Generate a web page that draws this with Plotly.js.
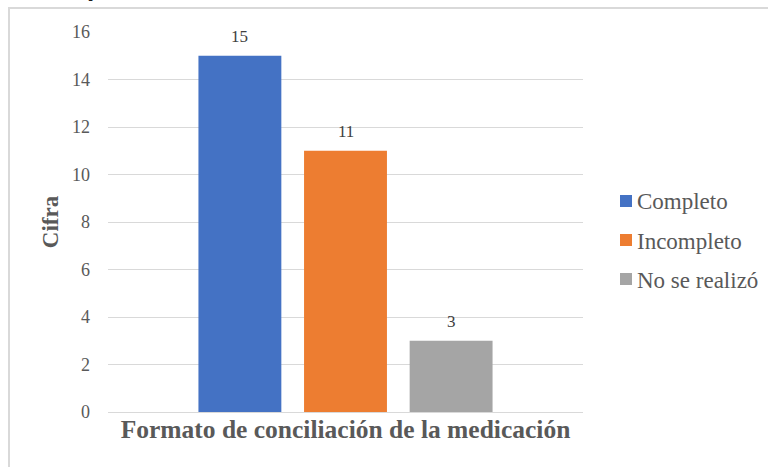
<!DOCTYPE html>
<html>
<head>
<meta charset="utf-8">
<script src="https://cdn.plot.ly/plotly-3.0.1.min.js"></script>
<style>
  html, body { margin: 0; padding: 0; background: #ffffff; }
  #wrap { position: relative; width: 768px; height: 467px; overflow: hidden; }
  #frame { position: absolute; left: 8px; top: 7px; right: -4px; bottom: -4px;
           border-left: 2px solid #d9d9d9; border-top: 2px solid #d9d9d9; }
  #chart { position: absolute; left: 0; top: 0; width: 768px; height: 467px; }
</style>
</head>
<body>
<div id="wrap">
  <div id="frame"></div>
  <div id="chart"></div>
</div>
<script>
// Medication reconciliation format: one group, three outcomes
const category = ["Formato"];
const seriesNames = ["Completo", "Incompleto", "No se realizó"];
const seriesValues = [15, 11, 3];
const seriesColors = ["#4472c4", "#ed7d31", "#a5a5a5"];
const yTicks = [0, 2, 4, 6, 8, 10, 12, 14, 16];

const serif = "Liberation Serif, Times New Roman, serif";

// plot area: 475 x 380 px; helpers convert pixel offsets to paper units
const plotW = 475, plotH = 380, marginL = 108, marginT = 32;
const px = (x) => (x - marginL) / plotW;
const py = (y) => (marginT + plotH - y) / plotH;

const traces = seriesNames.map((name, i) => ({
  type: "bar",
  name: name,
  x: category,
  y: [seriesValues[i]],
  marker: { color: seriesColors[i] },
  hoverinfo: "skip"
}));

// value labels above each bar
const valueLabels = seriesNames.map((name, i) => ({
  xref: "x", yref: "y",
  x: category[0], y: seriesValues[i],
  xshift: (i - 1) * 105.7,
  yshift: 8,
  yanchor: "bottom",
  text: String(seriesValues[i]),
  showarrow: false,
  font: { family: serif, size: 17, color: "#404040" }
}));

// legend on the right: colour square + series name, one row per series
const legendRowY = (i) => 201 + 39 * i;
const legendSwatches = seriesNames.map((name, i) => ({
  type: "rect",
  xref: "paper", yref: "paper",
  x0: px(620), x1: px(632),
  y0: py(legendRowY(i) - 6), y1: py(legendRowY(i) + 6),
  fillcolor: seriesColors[i],
  line: { width: 0 }
}));
const legendTexts = seriesNames.map((name, i) => ({
  xref: "paper", yref: "paper",
  x: px(635), y: py(legendRowY(i) + 1),
  xanchor: "left", yanchor: "middle",
  text: name,
  showarrow: false,
  font: { family: serif, size: 23, color: "#595959" }
}));

const layout = {
  width: 768,
  height: 467,
  margin: { l: marginL, r: 768 - marginL - plotW, t: marginT, b: 467 - marginT - plotH },
  font: { family: serif, color: "#595959" },
  paper_bgcolor: "rgba(0,0,0,0)",
  plot_bgcolor: "rgba(0,0,0,0)",
  barmode: "group",
  bargap: 0.333,
  bargroupgap: 0.215,
  showlegend: false,
  xaxis: {
    showticklabels: false,
    ticks: "",
    showgrid: false,
    zeroline: false,
    showline: false,
    title: {
      text: "Formato de conciliación de la medicación",
      font: { family: serif, size: 25.5, color: "#595959", weight: "bold" },
      standoff: 8
    }
  },
  yaxis: {
    range: [0, 16],
    tickvals: yTicks,
    ticktext: yTicks.map(String),
    ticks: "",
    ticklabelstandoff: 17,
    showgrid: true,
    gridcolor: "#d9d9d9",
    gridwidth: 1,
    zeroline: true,
    zerolinecolor: "#d9d9d9",
    zerolinewidth: 1,
    showline: false,
    tickfont: { family: serif, size: 18, color: "#595959" },
    title: {
      text: "Cifra",
      font: { family: serif, size: 23, color: "#595959", weight: "bold" },
      standoff: 6
    }
  },
  shapes: legendSwatches,
  annotations: valueLabels.concat(legendTexts, [{
    // title text running off the top of the page
    xref: "paper", yref: "paper",
    x: px(94.5), y: py(4),
    xanchor: "center", yanchor: "bottom",
    text: "p",
    showarrow: false,
    font: { family: "Liberation Sans, Arial, sans-serif", size: 26, color: "#1a1a1a", weight: "bold" }
  }])
};

Plotly.newPlot("chart", traces, layout, { displayModeBar: false, staticPlot: true });
</script>
</body>
</html>
